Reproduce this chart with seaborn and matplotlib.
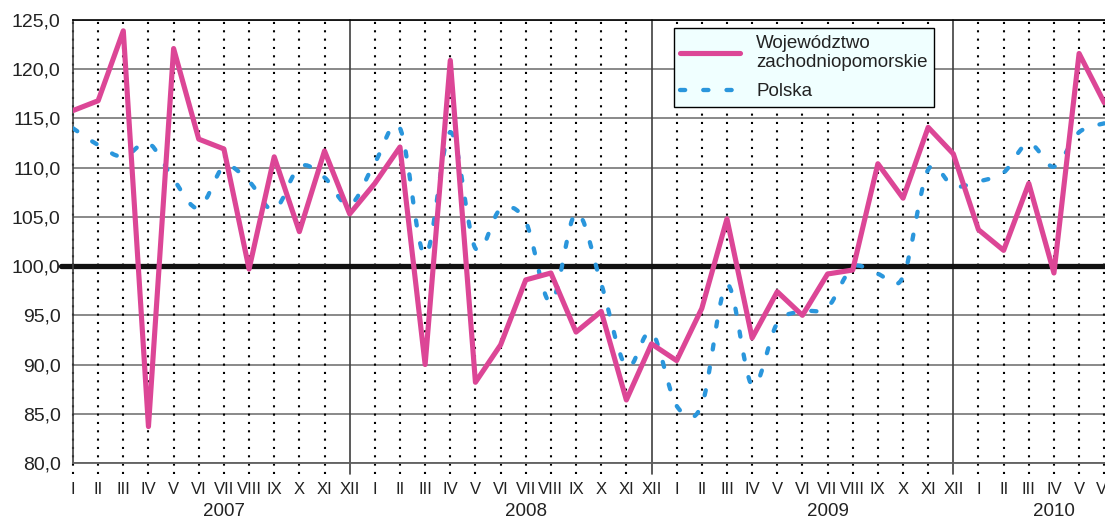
import numpy as np
import pandas as pd
import matplotlib
matplotlib.use('Agg')
import matplotlib.pyplot as plt
import matplotlib.transforms as mtransforms
from matplotlib.path import Path
from matplotlib.patches import PathPatch
from matplotlib.lines import Line2D
import seaborn as sns

# ---------- dane ----------
roman = ['I', 'II', 'III', 'IV', 'V', 'VI', 'VII', 'VIII', 'IX', 'X', 'XI', 'XII']
years = ['2007', '2008', '2009', '2010']
months = roman * 3 + roman[:6]
year_of = [y for y in years[:3] for _ in range(12)] + ['2010'] * 6

zachodniopomorskie = [
    115.8, 116.8, 123.9, 83.7, 122.1, 112.9, 111.9, 99.7, 111.1, 103.5, 111.7, 105.3,
    108.4, 112.1, 90.0, 120.9, 88.2, 92.0, 98.6, 99.3, 93.3, 95.4, 86.4, 92.1,
    90.4, 95.7, 104.8, 92.7, 97.4, 95.0, 99.2, 99.6, 110.4, 106.9, 114.1, 111.4,
    103.7, 101.6, 108.4, 99.3, 121.6, 116.6,
]
polska = [
    114.0, 112.3, 111.1, 112.5, 108.8, 105.9, 110.1, 108.6, 105.7, 110.1, 109.0, 106.2,
    110.5, 114.0, 101.1, 113.6, 101.8, 105.8, 104.5, 96.3, 105.4, 98.2, 89.8, 93.3,
    85.8, 85.9, 98.1, 87.9, 94.2, 95.4, 95.8, 99.9, 99.2, 98.9, 109.8, 108.1,
    108.6, 109.5, 112.5, 110.1, 113.6, 114.5,
]

df = pd.DataFrame({'idx': np.arange(len(months)), 'month': months, 'year': year_of,
                   'zp': zachodniopomorskie, 'pl': polska})

PINK = '#DC4696'
BLUE = '#2A96DC'
DOTS = (0, (1.2, 4.2))

sns.set_style('white')
plt.rcParams['font.family'] = ['Liberation Sans', 'DejaVu Sans']

fig = plt.figure(figsize=(11.05, 5.18), dpi=100)
ax = fig.add_axes([73 / 1105, 55 / 518, 1032 / 1105, 443 / 518])

# ---------- siatka ----------
ax.set_ylim(80, 125)
ax.set_xlim(0, 41.03)
ax.set_yticks(np.arange(80, 126, 5))
ax.set_yticklabels([f'{v:.1f}'.replace('.', ',') for v in np.arange(80, 126, 5)])
ax.yaxis.grid(True, color='#808080', lw=1.3, zorder=0)
ax.set_axisbelow(True)

for i, m in enumerate(months):
    if m == 'XII':
        ax.axvline(i, ymin=-0.025, ymax=1, color='#404040', lw=1.2, clip_on=False, zorder=1)
    else:
        ax.axvline(i, ymin=-0.025, ymax=1, color='black', lw=1.5,
                   ls=(0, (1, 3)), clip_on=False, zorder=1)

ax.axhline(100, xmin=-0.012, xmax=1, color='#111111', lw=3.8, clip_on=False, zorder=2)

# ---------- serie ----------
sns.lineplot(data=df, x='idx', y='zp', color=PINK, lw=3.7, ax=ax, legend=False,
             zorder=4, solid_joinstyle='round')

# Polska - wygladzona linia (Catmull-Rom -> Bezier)
pts = df[['idx', 'pl']].to_numpy(dtype=float)
ext = np.vstack([pts[0], pts, pts[-1]])
verts = [tuple(pts[0])]
codes = [Path.MOVETO]
for k in range(1, len(ext) - 2):
    p0, p1, p2, p3 = ext[k - 1], ext[k], ext[k + 1], ext[k + 2]
    c1 = p1 + (p2 - p0) / 6
    c2 = p2 - (p3 - p1) / 6
    verts += [tuple(c1), tuple(c2), tuple(p2)]
    codes += [Path.CURVE4] * 3
ax.add_patch(PathPatch(Path(verts, codes), fill=False, edgecolor=BLUE, lw=3.1,
                       ls=DOTS, capstyle='round', zorder=3))

# ---------- osie ----------
ax.spines['right'].set_visible(False)
ax.spines['top'].set_color('black')
ax.spines['top'].set_linewidth(1.2)
ax.spines['left'].set_color('#404040')
ax.spines['left'].set_linewidth(1.2)
ax.spines['bottom'].set_color('#606060')
ax.spines['bottom'].set_linewidth(1.3)

ax.set_xticks(df['idx'])
ax.set_xticklabels(months)
ax.tick_params(axis='x', length=0, pad=14, labelsize=12, labelcolor='#222222')
ax.tick_params(axis='y', length=8, width=1.3, color='#808080', pad=1,
               labelsize=14, labelcolor='#222222')
ax.set_xlabel('')
ax.set_ylabel('')

trans = mtransforms.blended_transform_factory(ax.transData, ax.transAxes)
for y in years:
    pos = df.loc[df['year'] == y, 'idx'].mean() + 0.5
    ax.text(pos, -0.11, y, transform=trans, ha='center', va='center',
            fontsize=13.5, color='#222222')

handles = [Line2D([], [], color=PINK, lw=3.7),
           Line2D([], [], color=BLUE, lw=3.1, ls=DOTS, dash_capstyle='round')]
labels = ['Województwo\nzachodniopomorskie', 'Polska']
leg = ax.legend(handles, labels, loc='upper left', bbox_to_anchor=(0.582, 0.982),
                frameon=True, fancybox=False, edgecolor='black', facecolor='#F0FFFF',
                framealpha=1, fontsize=13.5, handlelength=3.2, handletextpad=0.85,
                borderpad=0.35, borderaxespad=0, labelspacing=0.65)
leg.get_frame().set_linewidth(1.0)
for t in leg.get_texts():
    t.set_color('#222222')

fig.savefig('out.png', dpi=100)
